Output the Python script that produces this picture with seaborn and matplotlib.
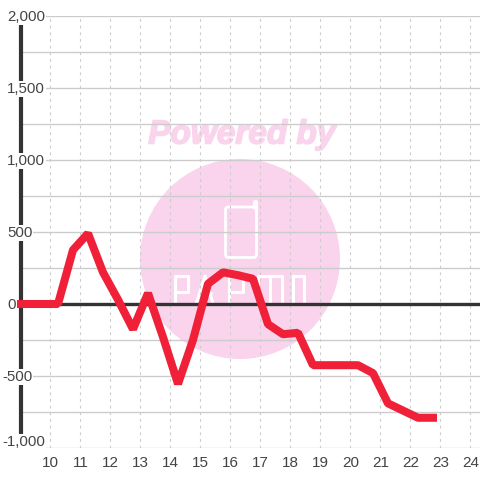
import matplotlib
matplotlib.use("Agg")
import matplotlib.pyplot as plt
from matplotlib.patches import Circle, FancyBboxPatch
from matplotlib import patheffects
import pandas as pd
import seaborn as sns

# data
hours = [9.0, 9.75, 10.25, 10.75, 11.25, 11.75, 12.25, 12.75, 13.25, 13.75, 14.25, 14.75,
         15.25, 15.75, 16.25, 16.75, 17.25, 17.75, 18.25, 18.75, 19.25, 19.75, 20.25,
         20.75, 21.25, 21.75, 22.25, 22.75]
values = [0, 0, 0, 375, 490, 220, 30, -175, 75, -230, -555, -250,
          140, 220, 200, 175, -140, -210, -200, -425, -425, -425, -425,
          -480, -690, -740, -790, -790]
x_ticks = list(range(10, 25))
y_labels = [2000, 1500, 1000, 500, 0, -500, -1000]
y_minor = [1750, 1250, 750, 250, -250, -750]

# strokes of the logo lettering, pixel coordinates
logo_strokes = [
    [(175, 304), (175, 276), (188, 276), (188, 292), (175, 292)],
    [(196, 304), (205, 276), (213, 304)],
    [(199, 293), (211, 293)],
    [(229, 304), (229, 276), (243, 276), (243, 292), (229, 292)],
    [(258, 304), (258, 276), (282, 276), (282, 304)],
    [(270, 276), (270, 304)],
    [(293, 276), (304, 276), (304, 304), (293, 304), (293, 276)],
]

sns.set_theme(style="white")
plt.rcParams["font.family"] = ["Liberation Sans", "DejaVu Sans"]

fig = plt.figure(figsize=(4.8, 4.8), dpi=100)

# watermark sits behind the chart
bg = fig.add_axes([0, 0, 1, 1], zorder=0)
bg.set_xlim(0, 480)
bg.set_ylim(480, 0)
bg.axis("off")
pink = "#fad4ec"
bg.add_patch(Circle((240, 259), 100, color=pink, lw=0))
bg.text(242, 135, "Powered by", color=pink, fontsize=24, fontweight="bold", fontstyle="italic",
        ha="center", va="center",
        path_effects=[patheffects.withStroke(linewidth=1.2, foreground=pink)])
bg.add_patch(FancyBboxPatch((225.5, 207), 31, 50.5, boxstyle="round,pad=0,rounding_size=3",
                            fc="none", ec="white", lw=2))
bg.plot([254.5, 254.5], [207, 202], color="white", lw=3.6, solid_capstyle="round")
for stroke in logo_strokes:
    bg.plot([p[0] for p in stroke], [p[1] for p in stroke], color="white", lw=2.2,
            solid_joinstyle="round")

# main chart
ax = fig.add_axes([20.5 / 480, (480 - 448) / 480, (480 - 20.5) / 480, 432 / 480], zorder=1)
ax.patch.set_alpha(0)
ax.set_xlim(9, 24.317)
ax.set_ylim(-1000, 2000)
for s in ax.spines.values():
    s.set_visible(False)

df = pd.DataFrame({"hour": hours, "value": values})

ax.set_xticks(x_ticks)
ax.set_yticks(y_labels + y_minor)
ax.grid(axis="y", color="#cccccc", lw=1, ls="-")
ax.grid(axis="x", color="#cccccc", lw=0.8, ls=(0, (2.5, 3.5)))
ax.set_axisbelow(True)
ax.tick_params(axis="x", length=0, labelsize=11, labelcolor="#444444", pad=6)
ax.tick_params(axis="y", length=0, labelleft=False)

ax.axhline(0, color="#333333", lw=2.4, zorder=2)
ax.axvline(9, color="#333333", lw=3, clip_on=False, zorder=2)

sns.lineplot(data=df, x="hour", y="value", ax=ax, color="#ef2038", lw=5.8, zorder=3,
             clip_on=False, solid_capstyle="projecting", solid_joinstyle="bevel")
ax.set_xlabel("")
ax.set_ylabel("")

# y labels left aligned with a white box that cuts the axis line
trans = ax.get_yaxis_transform()
for v in y_labels:
    x_px = 2 if v < 0 else 7
    pos = -958 if v == -1000 else v - 8
    ax.text((x_px - 20.5) / 459.5, pos, f"{v:,}", transform=trans, fontsize=10.8, color="#444444",
            ha="left", va="center", zorder=4, clip_on=False,
            bbox=dict(fc="white", ec="none", pad=0.8))

fig.savefig("out.png", dpi=100, facecolor="white")
